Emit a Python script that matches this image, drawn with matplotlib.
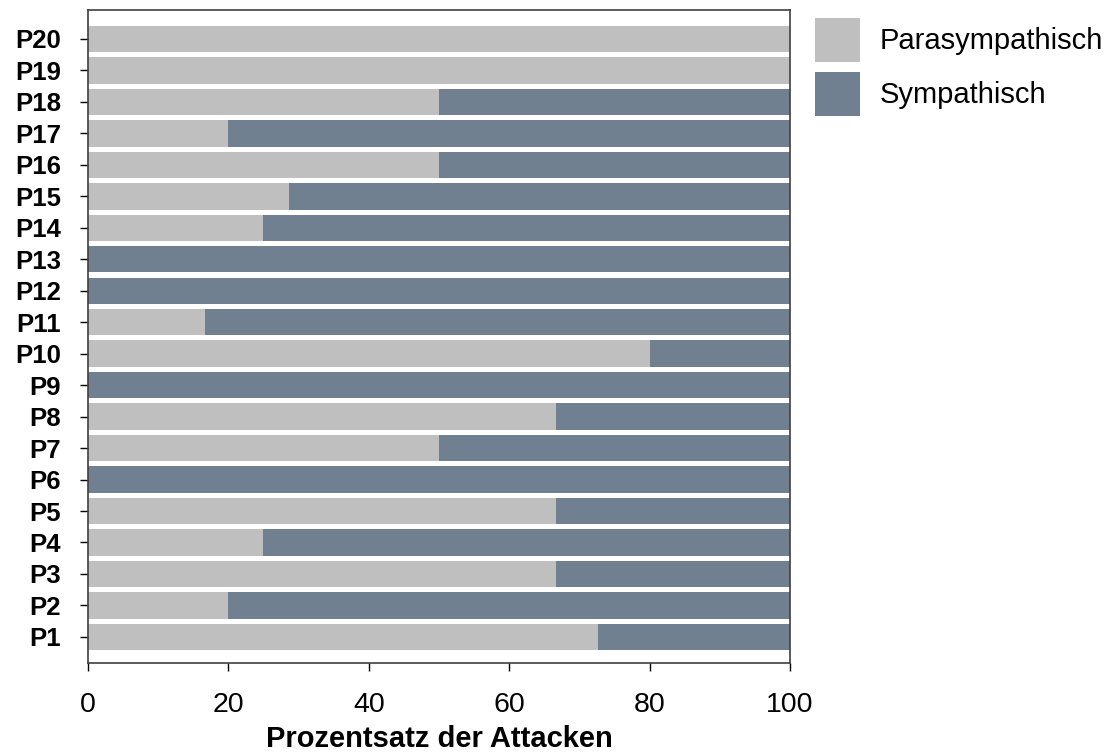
import matplotlib.pyplot as plt

plt.rcParams['font.family'] = ['Liberation Sans', 'DejaVu Sans']

# Data (percent of attacks)
patients = ['P1', 'P2', 'P3', 'P4', 'P5', 'P6', 'P7', 'P8', 'P9', 'P10',
            'P11', 'P12', 'P13', 'P14', 'P15', 'P16', 'P17', 'P18', 'P19', 'P20']
parasym = [72.7, 20, 66.7, 25, 66.7, 0, 50, 66.7, 0, 80,
           16.7, 0, 0, 25, 28.6, 50, 20, 50, 100, 100]
sym = [27.3, 80, 33.3, 75, 33.3, 100, 50, 33.3, 100, 20,
       83.3, 100, 100, 75, 71.4, 50, 80, 50, 0, 0]

fig = plt.figure(figsize=(11.15, 7.53), dpi=100)
ax = fig.add_axes([0.0789, 0.1195, 0.6296, 0.8672])

ypos = list(range(len(patients)))
ax.barh(ypos, parasym, height=0.84, color='#BFBFBF', label='Parasympathisch')
ax.barh(ypos, sym, left=parasym, height=0.84, color='#708090', label='Sympathisch')

ax.set_xlim(0, 100)
ax.set_ylim(-0.83, 19.92)
ax.set_yticks(ypos)
ax.set_yticklabels(patients, fontsize=18.5, fontweight='bold')
ax.set_xticks([0, 20, 40, 60, 80, 100])
ax.tick_params(axis='x', labelsize=20.5, length=5.5, width=1, pad=15.5)
ax.tick_params(axis='y', length=5.5, width=1, pad=14)
ax.set_xlabel('Prozentsatz der Attacken', fontsize=21, fontweight='bold', labelpad=5)

for s in ax.spines.values():
    s.set_color('#404040')
    s.set_linewidth(1.2)

ax.legend(loc='upper left', bbox_to_anchor=(815 / 1115, 1 - 18 / 753),
          bbox_transform=fig.transFigure, frameon=False,
          fontsize=21, handlelength=1.54, handleheight=1.94,
          handletextpad=0.68, labelspacing=0.34, borderaxespad=0, borderpad=0)

fig.savefig('out.png', dpi=100)
